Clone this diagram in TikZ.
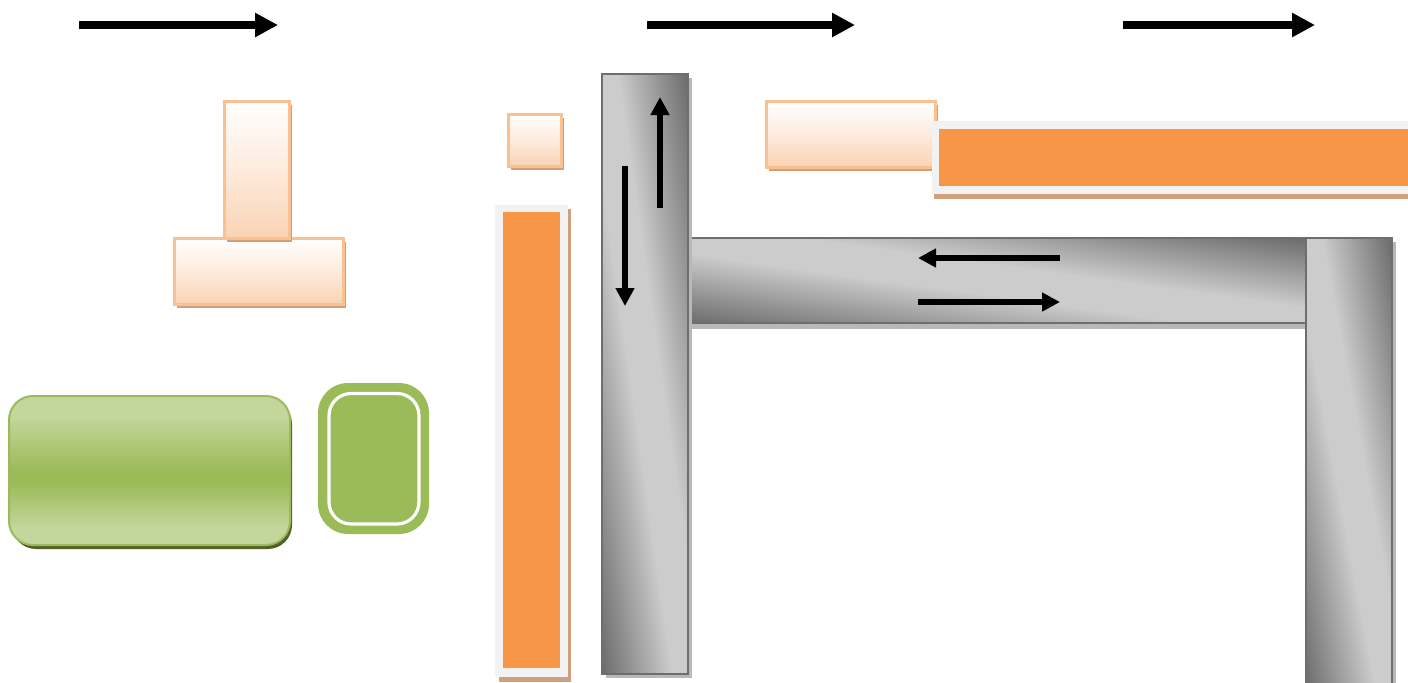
\documentclass[tikz,border=0pt]{standalone}
\usetikzlibrary{arrows.meta}
\definecolor{peachB}{HTML}{FAC090}
\definecolor{peachF}{HTML}{FAD3B4}
\definecolor{peachM}{HTML}{FDEBDD}
\definecolor{peachS}{HTML}{CFA07D}
\definecolor{orng}{HTML}{F79646}
\definecolor{frameC}{HTML}{F2F2F2}
\definecolor{gline}{HTML}{6E6E6E}
\definecolor{gshadow}{HTML}{B8B8B8}
\definecolor{grL}{HTML}{C3D69B}
\definecolor{grM}{HTML}{9BBB59}
\definecolor{grS}{HTML}{4F6228}
\pgfdeclarefunctionalshading{graybar}{\pgfpoint{0bp}{0bp}}{\pgfpoint{100bp}{100bp}}{}{%
  add 100 sub 50 div abs 0.18 sub 0.82 div
  dup 0 lt {pop 0} if
  dup 1 gt {pop 1} if
  -0.38 mul 0.8 add
  dup dup
}
\pgfdeclareverticalshading{greenbar}{100bp}{color(0bp)=(grL); color(31bp)=(grL); color(46bp)=(grM); color(50bp)=(grM); color(68bp)=(grL); color(100bp)=(grL)}
\tikzset{
  peachbox/.style={draw=peachB, line width=1.5pt, top color=white, bottom color=peachF, middle color=peachM},
  peachshadow/.style={fill=peachS},
  framebox/.style={fill=frameC},
  orangebox/.style={fill=orng},
  graybox/.style={draw=gline, line width=1.1pt, shading=graybar},
  grayshadow/.style={fill=gshadow},
  bigarrow/.style={line width=4pt, -{Triangle[length=11.5pt,width=11.5pt]}},
  smallarrow/.style={line width=3pt, -{Triangle[length=9pt,width=9pt]}},
}
\begin{document}
\begin{tikzpicture}[x=0.5pt,y=-0.5pt]
\useasboundingbox (0,0) rectangle (1408,682);

% top arrows
\coordinate (a1s) at (79,25);   \coordinate (a1e) at (278,25);
\coordinate (a2s) at (647,25);  \coordinate (a2e) at (855,25);
\coordinate (a3s) at (1123,25); \coordinate (a3e) at (1315,25);
\draw[bigarrow] (a1s) -- (a1e);
\draw[bigarrow] (a2s) -- (a2e);
\draw[bigarrow] (a3s) -- (a3e);

% peach T shape
\fill[peachshadow] (177,242) rectangle (346,308);
\draw[peachbox] (174,238) rectangle (343,304);
\fill[peachshadow] (227,105) rectangle (292,242);
\draw[peachbox] (224,101) rectangle (289,238);

% small peach square
\fill[peachshadow] (511,118) rectangle (564,170);
\draw[peachbox] (508,114) rectangle (561,166);

% peach rect top right
\fill[peachshadow] (769,105) rectangle (938,171);
\draw[peachbox] (766,101) rectangle (935,167);

% orange vertical bar
\fill[peachshadow] (499,209) rectangle (571,682);
\fill[framebox] (495,205) rectangle (568,677);
\fill[orangebox] (503,212) rectangle (560,668);

% orange horizontal bar
\fill[peachshadow] (934,125) rectangle (1412,199);
\fill[framebox] (932,121) rectangle (1412,194);
\fill[orangebox] (939,129) rectangle (1412,186);

% gray bars
\fill[grayshadow] (690,244) rectangle (1306,329);
\draw[graybox] (688,238) rectangle (1306,323);
\fill[grayshadow] (606,78) rectangle (692,678);
\draw[graybox] (602,74) rectangle (688,674);
\fill[grayshadow] (1310,242) rectangle (1396,696);
\draw[graybox] (1306,238) rectangle (1392,692);

% arrows inside the gray bars
\coordinate (u1) at (660,208); \coordinate (u2) at (660,97);
\coordinate (d1) at (625,166); \coordinate (d2) at (625,306);
\coordinate (l1) at (1060,258); \coordinate (l2) at (918,258);
\coordinate (r1) at (918,302); \coordinate (r2) at (1060,302);
\draw[smallarrow] (u1) -- (u2);
\draw[smallarrow] (d1) -- (d2);
\draw[smallarrow] (l1) -- (l2);
\draw[smallarrow] (r1) -- (r2);

% green boxes
\fill[grS, rounded corners=12pt] (12,400) rectangle (292,549);
\draw[draw=grM, line width=1pt, shading=greenbar, rounded corners=12pt] (9,396) rectangle (290,545);
\fill[grM, rounded corners=15pt] (318,383) rectangle (429,534);
\draw[white, line width=1.6pt, rounded corners=11pt] (329,393.5) rectangle (419,524);
\end{tikzpicture}
\end{document}
